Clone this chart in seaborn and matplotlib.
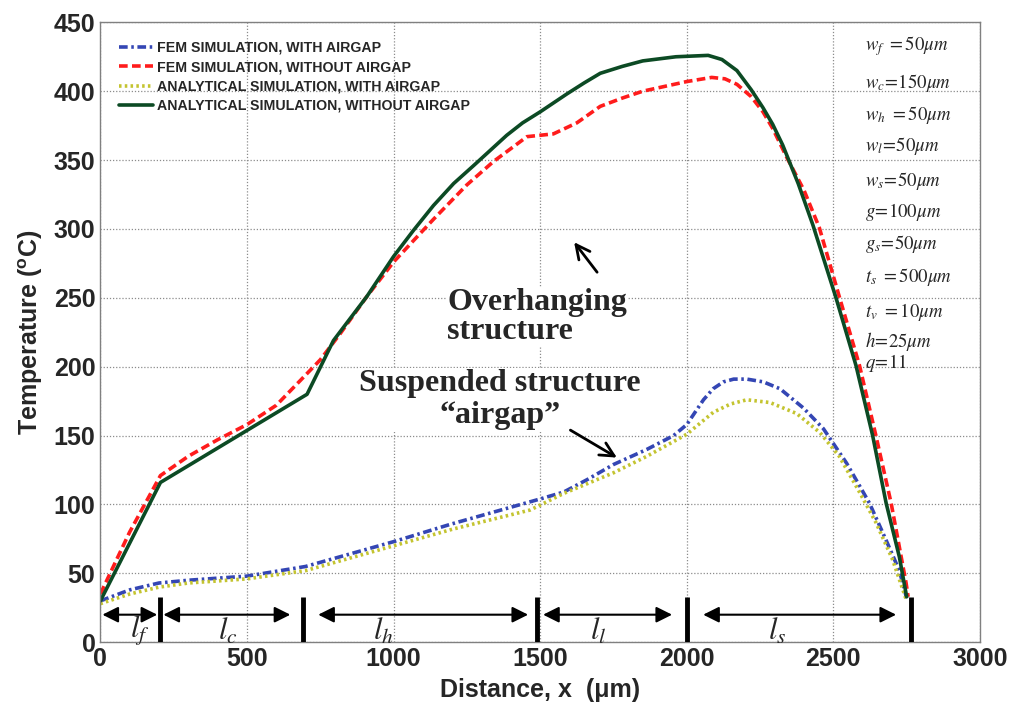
import numpy as np
import pandas as pd
import matplotlib
matplotlib.use("Agg")
import matplotlib.pyplot as plt
import seaborn as sns

# Data (x in um, temperature in degC)
fem_air_x = [0, 100, 200, 300, 500, 700, 800, 1000, 1200, 1400, 1500, 1580, 1660, 1750, 1864,
             1955, 2000, 2057, 2090, 2125, 2160, 2205, 2261, 2318, 2398, 2466, 2545, 2623,
             2680, 2725, 2750]
fem_air_y = [30, 38, 43, 45, 48, 55, 61, 73, 86, 98, 104, 109, 118, 129, 140,
             150, 158, 176, 184, 189, 191, 191, 189, 184, 170, 155, 130, 101,
             74, 52, 32]

fem_noair_x = [0, 100, 205, 300, 400, 500, 600, 682, 750, 818, 909, 1000, 1070, 1136, 1250,
               1341, 1455, 1500, 1545, 1625, 1705, 1780, 1850, 2000, 2085, 2130, 2171, 2220,
               2260, 2293, 2341, 2400, 2452, 2520, 2589, 2645, 2697, 2748, 2755]
fem_noair_y = [35, 80, 121, 135, 147, 158, 172, 190, 205, 224, 251, 276, 292, 307, 332,
               349, 367, 368, 369, 377, 389, 395, 400, 407, 410, 409, 405, 396,
               385, 373, 352, 328, 301, 251, 201, 150, 101, 43, 33]

ana_air_x = [0, 100, 200, 300, 500, 700, 800, 1000, 1200, 1466, 1580, 1750, 1864, 2000,
             2091, 2150, 2205, 2284, 2375, 2455, 2520, 2589, 2645, 2702, 2750]
ana_air_y = [28, 35, 40, 43, 46, 52, 58, 70, 82, 96, 108, 123, 135, 151,
             167, 173, 176, 174, 166, 152, 135, 109, 87, 60, 30]

ana_noair_x = [0, 205, 705, 795, 909, 1000, 1068, 1136, 1205, 1273, 1386, 1440, 1500, 1591,
               1650, 1705, 1780, 1850, 1963, 2073, 2120, 2171, 2220, 2260, 2293, 2327, 2380,
               2430, 2509, 2577, 2634, 2680, 2725, 2750]
ana_noair_y = [30, 116, 180, 219, 251, 280, 299, 317, 333, 346, 368, 377, 385, 398,
               406, 413, 418, 422, 425, 426, 423, 415, 401, 388, 376, 361, 333,
               303, 250, 201, 150, 101, 62, 33]

labels = ["FEM SIMULATION, WITH AIRGAP", "FEM SIMULATION, WITHOUT AIRGAP",
          "ANALYTICAL SIMULATION, WITH AIRGAP", "ANALYTICAL SIMULATION, WITHOUT AIRGAP"]

# section boundaries and spans along the bottom
bound_x = [205, 692, 1490, 2000, 2765]
span_start = [7, 215, 743, 1510, 2056]
span_end = [194, 648, 1459, 1950, 2714]
span_labels = [r"$l_f$", r"$l_c$", r"$l_h$", r"$l_l$", r"$l_s$"]
span_label_x = [136, 436, 965, 1698, 2308]

params = [r"$w_f\ =50\mu m$", r"$w_c\!=\!150\mu m$", r"$w_h\ =50\mu m$", r"$w_l\!=\!50\mu m$",
          r"$w_s\!=\!50\mu m$", r"$g\!=\!100\mu m$", r"$g_s\!=\!50\mu m$", r"$t_s\ =500\mu m$",
          r"$t_v\ =10\mu m$", r"$h\!=\!25\mu m$", r"$q\!=\!11$"]
param_y = [433, 406, 383, 360, 335, 312, 289, 265, 240, 218, 203]

sns.set_theme(style="white")
plt.rcParams['font.family'] = ['Liberation Sans', 'DejaVu Sans']
plt.rcParams['mathtext.fontset'] = 'stix'

fig = plt.figure(figsize=(10.24, 7.2), dpi=100)
ax = fig.add_axes([0.098, 0.108, 0.859, 0.861])

colors = ['#3446b4', '#ff1c1c', '#c4c430', '#0c4a24']
styles = [(0, (2.4, 1.0, 0.7, 1.0)), (0, (2.4, 1.2)), (0, (0.7, 0.9)), '-']
series = [(fem_air_x, fem_air_y), (fem_noair_x, fem_noair_y),
          (ana_air_x, ana_air_y), (ana_noair_x, ana_noair_y)]
for (xs, ys), c, ls, lab in zip(series, colors, styles, labels):
    sns.lineplot(x=xs, y=ys, ax=ax, color=c, linestyle=ls, linewidth=2.6, label=lab)

ax.set_xlim(0, 3000)
ax.set_ylim(0, 450)
ax.set_xticks(np.arange(0, 3001, 500))
ax.set_yticks(np.arange(0, 451, 50))
ax.grid(True, color='#8c8c8c', linestyle=(0, (1, 1.5)), linewidth=0.9)
for sp in ax.spines.values():
    sp.set_color('#808080')
    sp.set_linewidth(1.0)
ax.tick_params(direction='in', length=4, color='#808080', labelsize=18)
for t in ax.get_xticklabels() + ax.get_yticklabels():
    t.set_fontweight('bold')

ax.set_xlabel("Distance, x  (\u03bcm)", fontsize=18, fontweight='bold', labelpad=5)
ax.set_ylabel("Temperature ($\\mathregular{^o}$C)", fontsize=18, fontweight='bold', labelpad=6)

leg = ax.legend(loc='upper left', frameon=False, handlelength=2.4, handletextpad=0.3,
                labelspacing=0.38, borderaxespad=0.9,
                prop={'family': 'Liberation Sans', 'weight': 'bold', 'size': 10.2})

# bottom section markers
ax.vlines(bound_x, 0, 33, colors='black', linewidth=3.5, zorder=5)
for x0, x1 in zip(span_start, span_end):
    ax.annotate("", xy=(x0, 20), xytext=(x1, 20),
                arrowprops=dict(arrowstyle='<|-|>', color='black', lw=1.5,
                                mutation_scale=24, shrinkA=0, shrinkB=0))
for lx, lt in zip(span_label_x, span_labels):
    ax.text(lx, 8, lt, fontsize=22, ha='center', va='center')

# parameter list
for py, pt in zip(param_y, params):
    ax.text(2608, py, pt, fontsize=13.5, ha='left', va='center')

# annotations
serif = ['Liberation Serif', 'DejaVu Serif']
ax.text(1183, 236, "Overhanging\nstructure", family=serif, fontweight='bold', fontsize=23,
        ha='left', va='center', linespacing=1.0,
        bbox=dict(facecolor='white', edgecolor='none', pad=1))
ax.annotate("", xy=(1610, 292), xytext=(1700, 267),
            arrowprops=dict(arrowstyle='->', color='black', lw=2, mutation_scale=25))
ax.text(1364, 176, "Suspended structure\n\u201cairgap\u201d", family=serif, fontweight='bold',
        fontsize=23, ha='center', va='center', linespacing=1.15,
        bbox=dict(facecolor='white', edgecolor='none', pad=1))
ax.annotate("", xy=(1770, 133), xytext=(1595, 155),
            arrowprops=dict(arrowstyle='->', color='black', lw=2, mutation_scale=25))

fig.savefig("out.png", dpi=100)
